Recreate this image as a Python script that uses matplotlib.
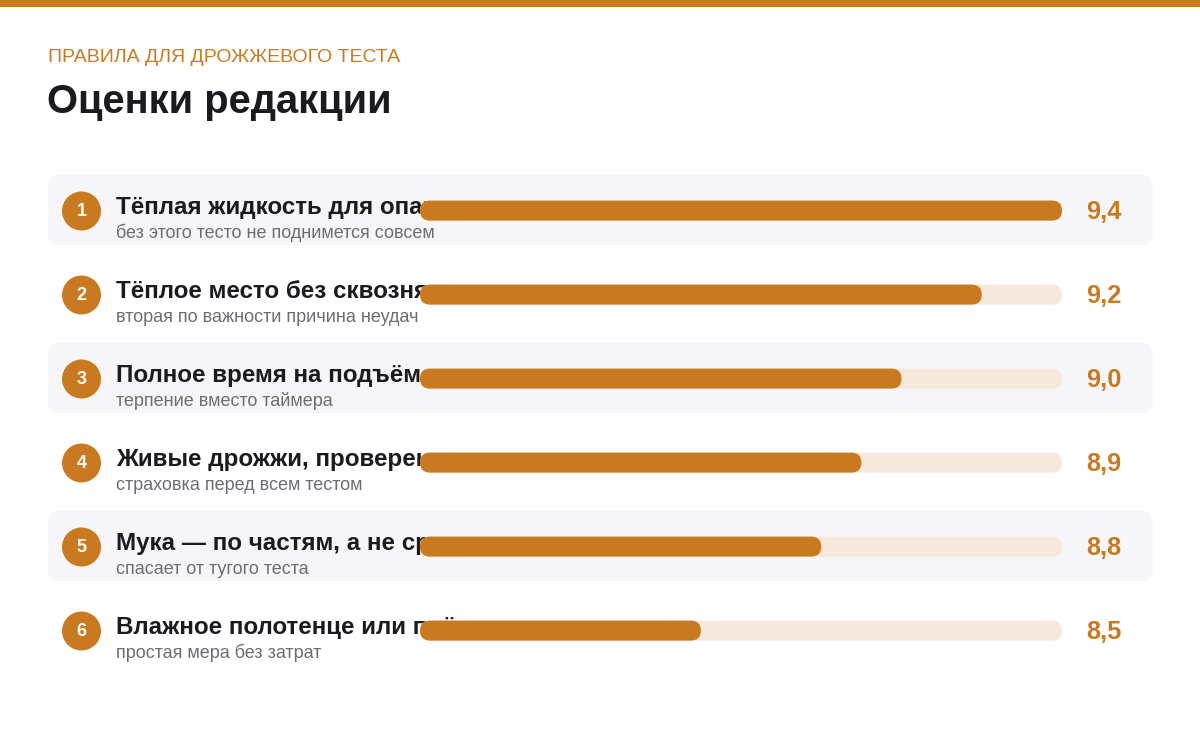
import matplotlib
matplotlib.use("Agg")
import matplotlib.pyplot as plt
from matplotlib.patches import FancyBboxPatch, Circle, Rectangle

plt.rcParams['font.family'] = ['Liberation Sans', 'DejaVu Sans']

# ========== данные ==========
kicker = "ПРАВИЛА ДЛЯ ДРОЖЖЕВОГО ТЕСТА"
title = "Оценки редакции"
labels = [
    "Тёплая жидкость для опары",
    "Тёплое место без сквозняков",
    "Полное время на подъём",
    "Живые дрожжи, проверенные заранее",
    "Мука — по частям, а не сразу",
    "Влажное полотенце или плёнка сверху",
]
notes = [
    "без этого тесто не поднимется совсем",
    "вторая по важности причина неудач",
    "терпение вместо таймера",
    "страховка перед всем тестом",
    "спасает от тугого теста",
    "простая мера без затрат",
]
scores = [9.4, 9.2, 9.0, 8.9, 8.8, 8.5]
score_min, score_max = 7.8, 9.4

# ========== стиль ==========
ACCENT = '#c97a20'
TRACK = '#f6e8db'
BAND = '#f6f6f8'
INK = '#1b1b1f'
MUTED = '#6c6c76'

W, H = 1200, 731
ROW0, STEP = 210, 84          # центр первой строки и шаг, px
BAR_X0, BAR_X1 = 420, 1062    # дорожка столбца, px
BAR_PX = 20                   # толщина столбца, px

fig = plt.figure(figsize=(W / 100, H / 100), dpi=100)
fig.patch.set_facecolor('white')

# фон, подписи, номера (в пикселях)
bg = fig.add_axes([0, 0, 1, 1])
bg.set_xlim(0, W)
bg.set_ylim(H, 0)
bg.axis('off')

bg.add_patch(Rectangle((0, 0), W, 7, facecolor=ACCENT, edgecolor='none'))
bg.text(48, 62, kicker, color=ACCENT, fontsize=14, va='baseline')
bg.text(47, 113, title, color=INK, fontsize=28.7, fontweight='bold', va='baseline')

for i, (lab, note, v) in enumerate(zip(labels, notes, scores)):
    yc = ROW0 + STEP * i
    if i % 2 == 0:
        bg.add_patch(FancyBboxPatch((48, yc - 35), 1105, 70,
                                    boxstyle='round,pad=0,rounding_size=12',
                                    facecolor=BAND, edgecolor='none'))
    bg.add_patch(Circle((81.5, yc + 1), 19.5, facecolor=ACCENT, edgecolor='none'))
    bg.text(81.5, yc + 1.5, str(i + 1), color='white', fontsize=13, fontweight='bold',
            ha='center', va='center')
    bg.text(116, yc + 4, lab, color=INK, fontsize=17.4, fontweight='bold', va='baseline')
    bg.text(116, yc + 28, note, color=MUTED, fontsize=13, va='baseline')
    bg.text(1086, yc + 9, f"{v:.1f}".replace('.', ','), color=ACCENT,
            fontsize=18.3, fontweight='bold', va='baseline')

# столбцы поверх текста
n = len(scores)
top_px, bot_px = ROW0 - STEP / 2, ROW0 + STEP * (n - 0.5)
ax = fig.add_axes([BAR_X0 / W, (H - bot_px) / H, (BAR_X1 - BAR_X0) / W, (bot_px - top_px) / H])
ax.set_xlim(score_min, score_max)
ax.set_ylim(n - 0.5, -0.5)
ax.axis('off')
ax.patch.set_alpha(0)

px_per_x = (BAR_X1 - BAR_X0) / (score_max - score_min)
bar_h = BAR_PX / STEP
aspect = px_per_x / STEP
radius = BAR_PX / 2 / px_per_x

for i, v in enumerate(scores):
    y0 = i - bar_h / 2 + 0.6 / STEP
    ax.add_patch(FancyBboxPatch((score_min, y0), score_max - score_min, bar_h,
                                boxstyle=f'round,pad=0,rounding_size={radius}',
                                mutation_aspect=aspect, facecolor=TRACK, edgecolor='none'))
    ax.add_patch(FancyBboxPatch((score_min, y0), v - score_min, bar_h,
                                boxstyle=f'round,pad=0,rounding_size={radius}',
                                mutation_aspect=aspect, facecolor=ACCENT, edgecolor='none'))

fig.savefig('out.png', dpi=100)
